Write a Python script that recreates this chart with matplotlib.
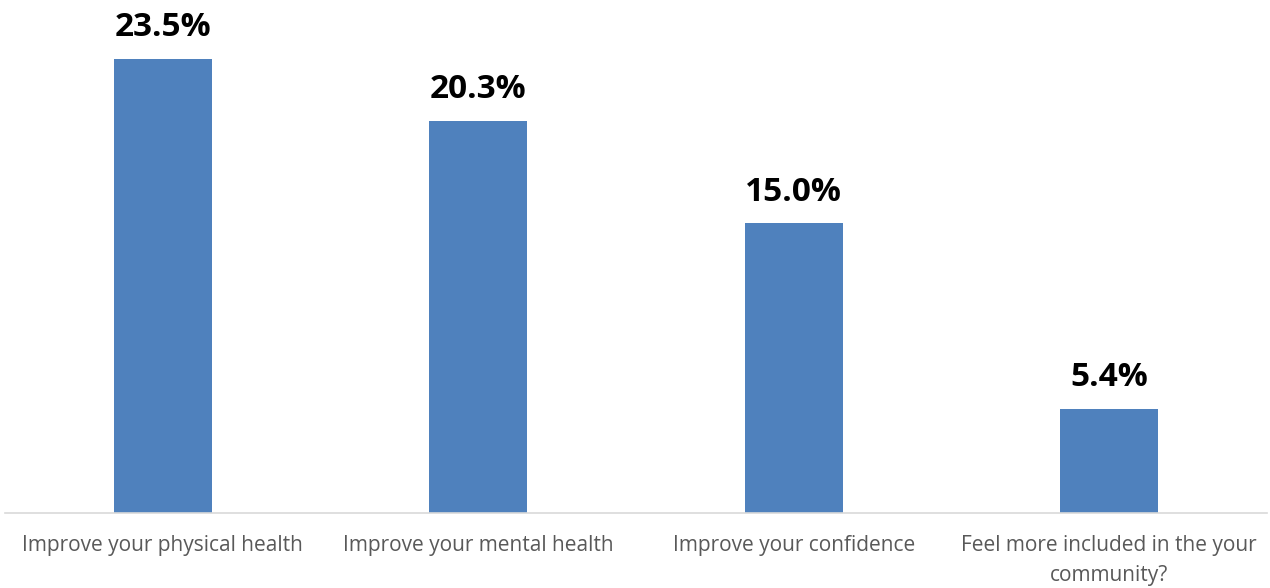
import matplotlib
matplotlib.use('Agg')
import matplotlib.pyplot as plt

# Chart data
categories = ['Improve your physical health', 'Improve your mental health',
              'Improve your confidence', 'Feel more included in the your\ncommunity?']
values = [23.5, 20.3, 15.0, 5.4]

bar_color = '#4f81bd'

fig = plt.figure(figsize=(12.70, 5.88), dpi=100)
# axes from baseline (y=513 px) to top of figure
ax = fig.add_axes([5 / 1270, 1 - 513 / 588, 1262 / 1270, 513 / 588])

x = range(len(categories))
ax.bar(x, values, width=0.31, color=bar_color)

for xi, v in zip(x, values):
    ax.annotate(f'{v:.1f}%', (xi, v), xytext=(0, 10.5), textcoords='offset points',
                ha='center', va='bottom', fontsize=24, fontweight='bold',
                family='Open Sans', color='black')

ax.set_xlim(-0.5, len(categories) - 0.5)
ax.set_ylim(0, 26.55)
ax.set_xticks(list(x))
ax.set_xticklabels(categories, fontsize=15, family='Open Sans', color='#595959',
                   linespacing=1.55)
ax.tick_params(axis='x', length=0, pad=16)
ax.set_yticks([])

for side in ['top', 'right', 'left']:
    ax.spines[side].set_visible(False)
ax.spines['bottom'].set_color('#d9d9d9')
ax.spines['bottom'].set_linewidth(1.2)

fig.savefig('out.png', dpi=100)
